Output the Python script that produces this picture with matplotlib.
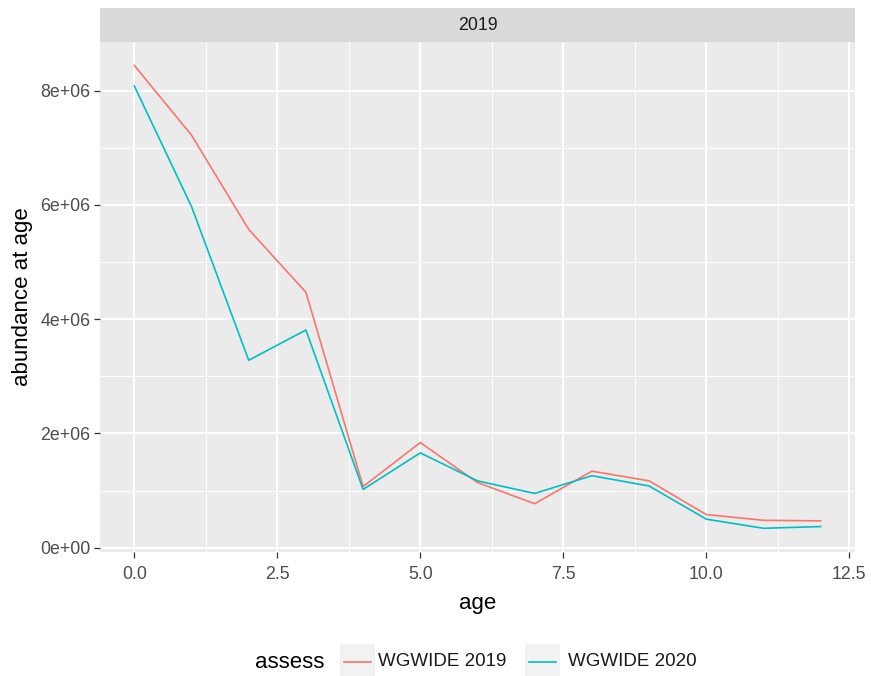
import matplotlib
matplotlib.use("Agg")
import matplotlib.pyplot as plt
from matplotlib.patches import Rectangle
from matplotlib.lines import Line2D
from matplotlib.ticker import MultipleLocator, FuncFormatter

plt.rcParams["font.family"] = ["Liberation Sans", "DejaVu Sans"]

# === Data ===
AGES = [0, 1, 2, 3, 4, 5, 6, 7, 8, 9, 10, 11, 12]
WGWIDE_2019 = [8.44e6, 7.22e6, 5.57e6, 4.47e6, 1.07e6, 1.84e6, 1.14e6,
               0.77e6, 1.34e6, 1.17e6, 0.58e6, 0.48e6, 0.47e6]
WGWIDE_2020 = [8.08e6, 5.97e6, 3.28e6, 3.81e6, 1.02e6, 1.66e6, 1.17e6,
               0.95e6, 1.26e6, 1.08e6, 0.50e6, 0.34e6, 0.37e6]
SERIES = ["WGWIDE 2019", "WGWIDE 2020"]
PANEL_TITLE = "2019"

COLORS = {"WGWIDE 2019": "#F8766D", "WGWIDE 2020": "#00BFC4"}
TEXT_GREY = "#4D4D4D"
SMALL = 12.8
BIG = 16


def sci_label(v, pos):
    if v == 0:
        return "0e+00"
    exp = int(f"{v:e}".split("e")[1])
    mant = v / 10 ** exp
    return f"{mant:g}e+{exp:02d}"


fig = plt.figure(figsize=(8.71, 6.76), dpi=100)
fig.patch.set_facecolor("white")

# Main panel
ax = fig.add_axes([100 / 871, 1 - 552 / 676, 755 / 871, 510 / 676])
ax.set_facecolor("#EBEBEB")
for name, vals in zip(SERIES, [WGWIDE_2019, WGWIDE_2020]):
    ax.plot(AGES, vals, color=COLORS[name], linewidth=1.2, label=name, zorder=3)

ax.set_xlim(-0.6, 12.6)
ymax = max(WGWIDE_2019 + WGWIDE_2020)
ax.set_ylim(-0.075e6, ymax + 0.41e6)

ax.xaxis.set_major_locator(MultipleLocator(2.5))
ax.xaxis.set_minor_locator(MultipleLocator(1.25))
ax.yaxis.set_major_locator(MultipleLocator(2e6))
ax.yaxis.set_minor_locator(MultipleLocator(1e6))
ax.xaxis.set_major_formatter(FuncFormatter(lambda v, p: f"{v:.1f}"))
ax.yaxis.set_major_formatter(FuncFormatter(sci_label))

ax.grid(which="major", color="white", linewidth=1.4)
ax.grid(which="minor", color="white", linewidth=0.7)
ax.set_axisbelow(True)
for s in ax.spines.values():
    s.set_visible(False)
ax.tick_params(which="major", length=4, width=0.9, color="#333333",
               labelsize=SMALL, labelcolor=TEXT_GREY)
ax.tick_params(axis="x", which="major", pad=6)
ax.tick_params(axis="y", which="major", pad=3)
ax.tick_params(which="minor", length=0)

ax.set_xlabel("age", fontsize=BIG, color="black", labelpad=7)
ax.set_ylabel("abundance at age", fontsize=BIG, color="black", labelpad=5)

# Facet strip
strip = fig.add_axes([100 / 871, 1 - 42 / 676, 755 / 871, 34 / 676])
strip.set_facecolor("#D9D9D9")
strip.set_xticks([])
strip.set_yticks([])
for s in strip.spines.values():
    s.set_visible(False)
strip.text(0.5, 0.5, PANEL_TITLE, ha="center", va="center", fontsize=SMALL,
           color="#1A1A1A", transform=strip.transAxes)

# Legend at bottom
fig.text(255 / 871, 1 - 662 / 676, "assess", fontsize=BIG, ha="left", va="center")
key_x = [340, 525]
lab_x = [378, 568]
for name, kx, lx in zip(SERIES, key_x, lab_x):
    fig.patches.append(Rectangle((kx / 871, 1 - 680 / 676), 35 / 871, 36 / 676,
                                 transform=fig.transFigure, facecolor="#F2F2F2",
                                 edgecolor="none"))
    fig.lines.append(Line2D([(kx + 4) / 871, (kx + 31) / 871],
                            [1 - 662 / 676, 1 - 662 / 676],
                            transform=fig.transFigure, color=COLORS[name],
                            linewidth=1.2))
    fig.text(lx / 871, 1 - 662 / 676, name, fontsize=13.5, ha="left", va="center",
             color="#1A1A1A")

fig.savefig("out.png", dpi=100, facecolor="white")
